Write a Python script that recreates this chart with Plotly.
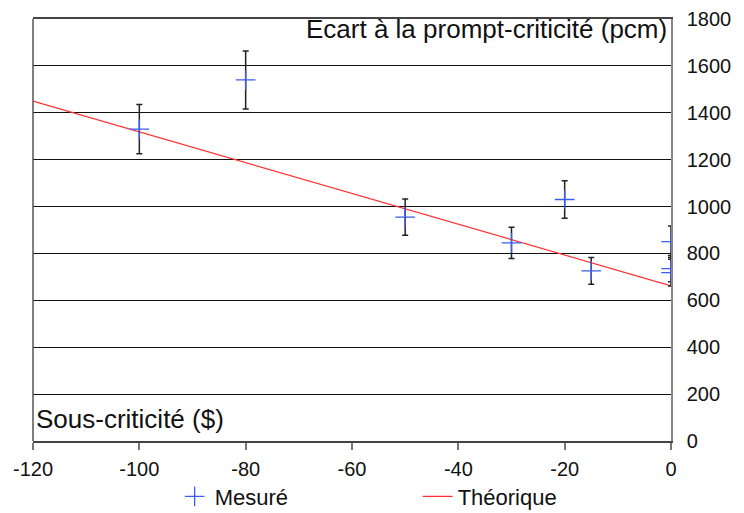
import plotly.graph_objects as go

# Measured points
x_mes = [-100, -80, -50, -30, -20, -15, 0, 0, 0]
y_mes = [1330, 1540, 955, 845, 1030, 726, 850, 735, 718]
err_mes = [105, 124, 77, 67, 80, 57, 67, 56, 57]

# Theoretical line
x_th = [-120, 0]
y_th = [1450, 662]

x_ticks = [-120, -100, -80, -60, -40, -20, 0]
x_tick_labels = ["-120", "-100", "-80", "-60", "-40", "-20", "0"]
y_ticks = [0, 200, 400, 600, 800, 1000, 1200, 1400, 1600, 1800]

FONT = "Liberation Sans, Arial, sans-serif"

fig = go.Figure()
fig.add_trace(go.Scatter(
    x=x_th, y=y_th, mode="lines", name="Théorique",
    line=dict(color="#ff3030", width=1.2), legendrank=2,
))
fig.add_trace(go.Scatter(
    x=x_mes, y=y_mes, mode="markers", name="Mesuré",
    marker=dict(symbol="cross-thin", size=14, line=dict(color="#3a5cf0", width=1.3)),
    error_y=dict(type="data", array=err_mes, visible=True, color="#222222",
                 thickness=1.5, width=3),
    legendrank=1,
))

fig.add_annotation(text="Ecart à la prompt-criticité (pcm)", xref="paper", yref="paper",
                   x=0.997, y=1, xanchor="right", yanchor="top", yshift=7, showarrow=False,
                   font=dict(size=26, color="#111111", family=FONT))
fig.add_annotation(text="Sous-criticité ($)", xref="paper", yref="paper",
                   x=0.002, y=0, xanchor="left", yanchor="bottom", yshift=5, showarrow=False,
                   font=dict(size=26, color="#111111", family=FONT))

fig.add_shape(type="line", xref="paper", yref="paper", x0=0, x1=0, y0=0, y1=1,
              line=dict(color="#555555", width=1.5))

fig.update_layout(
    width=736, height=505,
    margin=dict(l=25, r=73, t=11, b=72, autoexpand=False),
    paper_bgcolor="white", plot_bgcolor="white",
    font=dict(family=FONT, size=20, color="#111111"),
    showlegend=True,
    legend=dict(orientation="h", x=0.222, xanchor="left", y=-0.082, yanchor="top",
                bgcolor="rgba(0,0,0,0)",
                font=dict(size=22), entrywidth=198, entrywidthmode="pixels",
                traceorder="normal", itemwidth=30),
)
fig.update_xaxes(range=[-120, 0], tickvals=x_ticks, ticktext=x_tick_labels, showgrid=False,
                 showline=True, linecolor="#444444", linewidth=1.5, mirror=True,
                 ticks="outside", ticklen=7, tickcolor="#777777", tickwidth=1.5,
                 zeroline=False, ticklabelstandoff=2, automargin=False)
fig.update_yaxes(range=[0, 1800], tickvals=y_ticks, side="right", showgrid=True,
                 gridcolor="#111111", gridwidth=1, showline=True, linecolor="#888888",
                 linewidth=1.5, ticks="", zeroline=False, ticklabelstandoff=10,
                 automargin=False)

fig.write_html("out.html")
